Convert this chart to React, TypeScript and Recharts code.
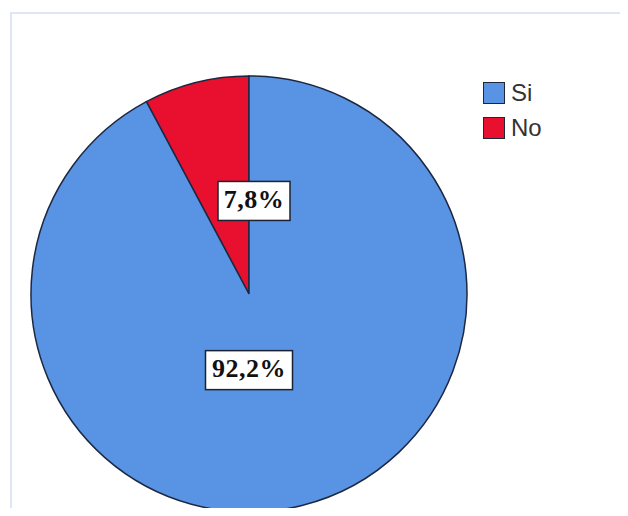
import { Cell, Legend, Pie, PieChart } from "recharts";

const categories = ["No", "Si"];
const percents = [7.8, 92.2];
const colors = ["#E8102E", "#5894E3"];
const legendOrder = ["Si", "No"];

const rows = categories.map((name, i) => ({ name, value: percents[i] }));

const RAD = Math.PI / 180;
// how far along the radius each box sits (SPSS puts them unevenly)
const labelDepth = [0.44, 0.36];
const labelNudge = [5, 0];

function fmt(v: number) {
  return v.toFixed(1).replace(".", ",") + "%";
}

function BoxLabel(props: any) {
  const { cx, cy, midAngle, outerRadius, index, value } = props;
  const text = fmt(value);
  const x = cx + labelNudge[index];
  const y = cy - Math.sin(midAngle * RAD) * outerRadius * labelDepth[index];
  const w = 15 * text.length + 12;
  const h = 39;
  return (
    <g>
      <rect
        x={x - w / 2}
        y={y - h / 2}
        width={w}
        height={h}
        fill="#ffffff"
        stroke="#1b2233"
        strokeWidth={1.5}
      />
      <text
        x={x}
        y={y + 1}
        textAnchor="middle"
        dominantBaseline="middle"
        fontFamily="'Liberation Serif', serif"
        fontWeight="bold"
        fontSize={26}
        letterSpacing={0.5}
        fill="#111"
      >
        {text}
      </text>
    </g>
  );
}

function LegendBox() {
  return (
    <div style={{ fontFamily: "'Liberation Sans Narrow', 'Liberation Sans', Arial, sans-serif" }}>
      {legendOrder.map((name) => {
        const i = categories.indexOf(name);
        return (
          <div
            key={name}
            style={{ display: "flex", alignItems: "center", height: 35 }}
          >
            <span
              style={{
                width: 20,
                height: 20,
                background: colors[i],
                border: "1.5px solid #1f2638",
                marginRight: 6,
                flex: "none",
              }}
            />
            <span style={{ fontSize: 24, color: "#333" }}>{name}</span>
          </div>
        );
      })}
    </div>
  );
}

export default function App() {
  return (
    <div
      style={{
        position: "relative",
        width: 628,
        height: 516,
        margin: -8,
        overflow: "hidden",
        background: "#fff",
      }}
    >
      <div
        style={{
          position: "absolute",
          left: 10,
          top: 12,
          width: 640,
          height: 540,
          border: "2px solid #dfe6f3",
        }}
      />
      <div style={{ position: "absolute", left: 0, top: 0 }}>
        <PieChart
          width={628}
          height={516}
          margin={{ top: 0, right: 0, bottom: 0, left: 0 }}
        >
          <Pie
            data={rows}
            dataKey="value"
            nameKey="name"
            cx={249}
            cy={294}
            outerRadius={218}
            startAngle={90}
            endAngle={450}
            stroke="#1d2840"
            strokeWidth={1.5}
            labelLine={false}
            label={BoxLabel}
            isAnimationActive={false}
          >
            {rows.map((r, i) => (
              <Cell key={r.name} fill={colors[i]} />
            ))}
          </Pie>
          <Legend
            layout="vertical"
            align="right"
            verticalAlign="top"
            content={<LegendBox />}
            wrapperStyle={{ left: 483, top: 75, width: 90 }}
          />
        </PieChart>
      </div>
    </div>
  );
}
